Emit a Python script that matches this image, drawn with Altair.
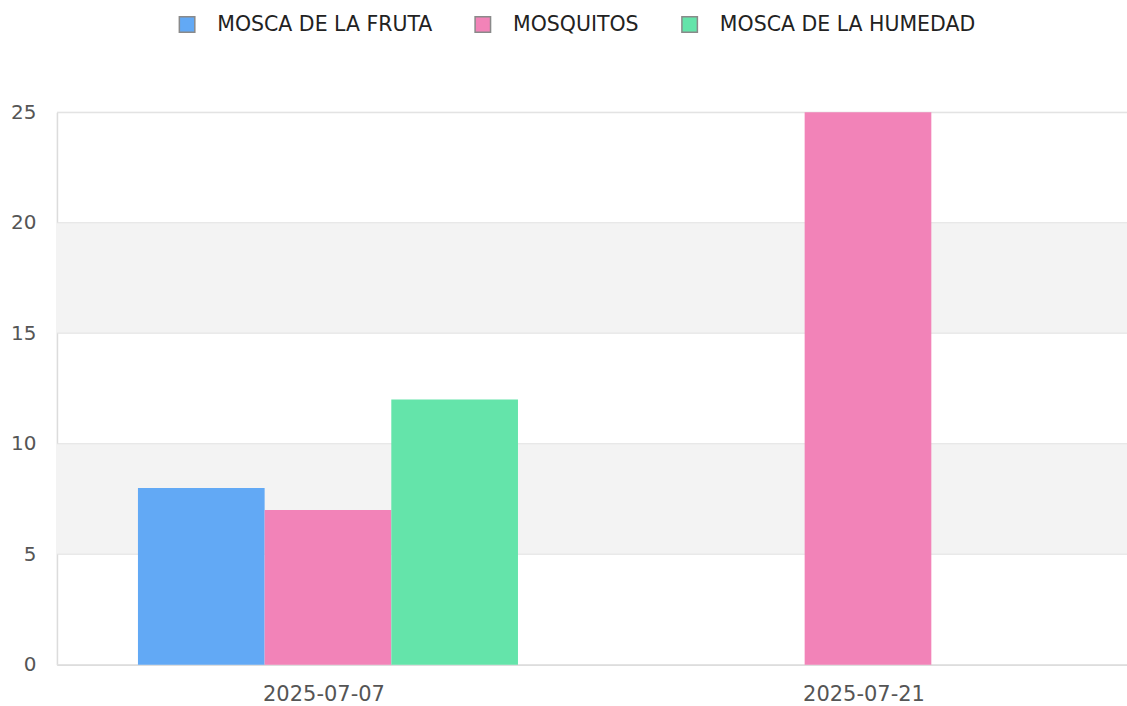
import altair as alt
import pandas as pd

dates = ["2025-07-07", "2025-07-21"]
series = ["MOSCA DE LA FRUTA", "MOSQUITOS", "MOSCA DE LA HUMEDAD"]
colors = ["#62a9f5", "#f283b8", "#64e4aa"]
fruta = [8, None]
mosquitos = [7, 25]
humedad = [12, None]

y_ticks = [0, 5, 10, 15, 20, 25]
band_lo = [5, 15]
band_hi = [10, 20]

rows = []
for i, d in enumerate(dates):
    for s, vals in zip(series, [fruta, mosquitos, humedad]):
        if vals[i] is not None:
            rows.append({"fecha": d, "serie": s, "valor": vals[i]})
df = pd.DataFrame(rows)
bands = pd.DataFrame({"lo": band_lo, "hi": band_hi})
grid = pd.DataFrame({"v": y_ticks})

FONT = "DejaVu Sans"
W, H = 1071, 553

yscale = alt.Scale(domain=[0, 25], nice=False)
yaxis = alt.Axis(
    title=None, values=y_ticks, ticks=False, grid=False, labelFont=FONT,
    labelFontSize=20, labelColor="#555555", labelPadding=21,
    domainColor="#dcdcdc", domainWidth=1.5,
)

band_layer = alt.Chart(bands).mark_rect(color="#f3f3f3").encode(
    y=alt.Y("lo:Q", scale=yscale, axis=yaxis),
    y2="hi:Q",
)

grid_layer = alt.Chart(grid).mark_rule(color="#e2e2e2", strokeWidth=1).encode(
    y=alt.Y("v:Q", scale=yscale, axis=yaxis),
)

bars = alt.Chart(df).mark_bar(stroke=None).encode(
    x=alt.X(
        "fecha:N",
        sort=dates,
        scale=alt.Scale(domain=dates, paddingInner=0.2963, paddingOuter=0.1389, align=0.54),
        axis=alt.Axis(
            title=None, labelAngle=0, ticks=False, labelFont=FONT, labelFontSize=21,
            labelColor="#555555", labelPadding=19, labelOffset=-4,
            domainColor="#dcdcdc", domainWidth=1.5, grid=False,
        ),
    ),
    xOffset=alt.XOffset("serie:N", sort=series, scale=alt.Scale(domain=series, paddingInner=0, paddingOuter=0)),
    y=alt.Y("valor:Q", scale=yscale, axis=yaxis),
    color=alt.Color(
        "serie:N", sort=series,
        scale=alt.Scale(domain=series, range=colors),
        legend=alt.Legend(
            title=None, orient="none", direction="horizontal", legendX=120, legendY=-98,
            symbolType="square", symbolSize=240, symbolStrokeColor="#8a8a8a",
            symbolStrokeWidth=1.5, labelFont=FONT, labelFontSize=20.5, labelColor="#222222",
            labelOffset=20, columnPadding=39, padding=0, symbolOpacity=1, labelLimit=0,
        ),
    ),
)

chart = alt.layer(band_layer, grid_layer, bars).properties(
    width=W, height=H,
    autosize=alt.AutoSizeParams(type="none"),
    padding={"left": 57, "top": 112, "right": 0, "bottom": 41},
).configure_view(stroke=None).configure(background="white")

chart.save("out.html", embed_options={"renderer": "svg", "actions": False})
